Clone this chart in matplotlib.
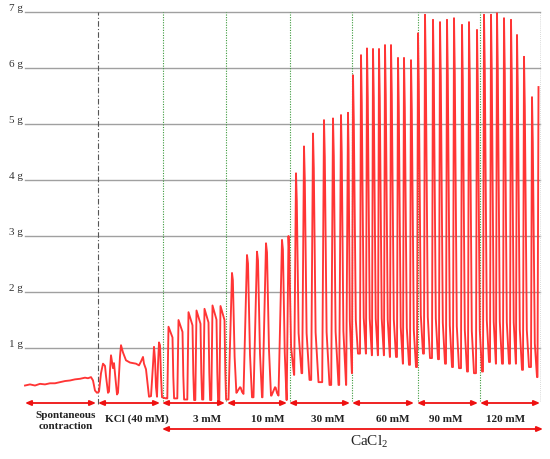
import matplotlib
matplotlib.use("Agg")
import matplotlib.pyplot as plt

# ---------------- data (time in arbitrary units, force in g) ----------------
grid_g = [1, 2, 3, 4, 5, 6, 7]
grid_labels = ["1 g", "2 g", "3 g", "4 g", "5 g", "6 g", "7 g"]

# spontaneous contraction baseline
spont_t = [25, 30, 35, 40, 45, 50, 55, 60, 65, 70, 75, 80, 85, 88, 91, 93, 95, 97]
spont_g = [0.33, 0.35, 0.33, 0.36, 0.35, 0.37, 0.37, 0.39, 0.41, 0.42, 0.44, 0.45,
           0.47, 0.46, 0.48, 0.42, 0.24, 0.20]

# KCl (40 mM) trace
kcl_t = [97, 99, 101, 103, 105, 106, 108, 109, 110, 111, 112, 113, 114, 115, 117,
         118, 120, 121, 123, 126, 130, 133, 136, 139, 141, 143, 144, 146, 148, 149,
         151, 153, 154, 155, 156, 157, 158, 159, 160, 161, 162, 166]
kcl_g = [0.20, 0.22, 0.55, 0.72, 0.68, 0.50, 0.20, 0.22, 0.60, 0.87, 0.75, 0.64,
         0.73, 0.55, 0.17, 0.20, 0.85, 1.05, 0.92, 0.78, 0.74, 0.73, 0.72, 0.69,
         0.76, 0.84, 0.72, 0.62, 0.30, 0.13, 0.14, 0.70, 1.02, 0.80, 0.30, 0.13,
         0.70, 1.10, 1.05, 0.50, 0.12, 0.10]

# CaCl2 contractions: peak times, peak forces, following trough forces
ca3_t = [168.5, 178.5, 188.5, 196.5, 204.5, 212.5, 220.5]
ca3_peak = [1.38, 1.50, 1.64, 1.67, 1.70, 1.76, 1.75]
ca3_trough = [0.10, 0.08, 0.07, 0.08, 0.07, 0.06, 0.08]

ca10_t = [232, 240, 247, 257, 266, 275, 282]
ca10_peak = [2.34, 0.30, 2.66, 2.72, 2.87, 0.30, 2.93]
ca10_trough = [0.20, 0.18, 0.12, 0.12, 0.15, 0.15, 0.07]

ca30_t = [288.5, 296, 304, 313, 324, 333, 341, 348]
ca30_peak = [3.00, 4.12, 4.60, 4.83, 5.07, 5.10, 5.16, 5.20]
ca30_trough = [0.52, 0.55, 0.43, 0.39, 0.34, 0.34, 0.34, 0.55]

ca60_t = [353, 361, 367, 373, 379, 385, 391, 398, 404, 411]
ca60_peak = [5.87, 6.23, 6.35, 6.34, 6.34, 6.41, 6.41, 6.18, 6.18, 6.14]
ca60_trough = [0.90, 0.90, 0.87, 0.87, 0.87, 0.84, 0.84, 0.72, 0.70, 0.66]

ca90_t = [418, 425, 433, 440, 447, 454, 462, 469, 477]
ca90_peak = [6.62, 6.95, 6.86, 6.82, 6.86, 6.89, 6.77, 6.82, 6.68]
ca90_trough = [0.90, 0.82, 0.80, 0.72, 0.66, 0.64, 0.58, 0.55, 0.58]

ca120_t = [484, 491, 497, 504, 511, 517, 524, 532, 538.5]
ca120_peak = [6.95, 6.95, 6.98, 6.89, 6.86, 6.59, 6.20, 5.48, 5.66]
ca120_trough = [0.75, 0.72, 0.72, 0.72, 0.72, 0.61, 0.66, 0.48, 5.66]

# segments: label, start, end
seg_labels = ["Spontaneous\ncontraction", "KCl (40 mM)", "3 mM", "10 mM", "30 mM",
              "60 mM", "90 mM", "120 mM"]
seg_start = [25, 98, 162, 227, 289, 352, 417, 480]
seg_end = [96, 160, 225, 287, 350, 414, 478, 540]
seg_label_x = [66, 137, 207, 268, 328, 393, 446, 506]
boundaries = [98, 163, 226, 290, 352, 418, 480]

# ---------------- build trace ----------------
# contraction shape per segment:
# (rise, hold, drop fraction, knee time, knee fraction, fall time)
shapes = [
    (ca3_t, ca3_peak, ca3_trough, (1.2, 4.0, 0.15, 4.8, 0.30, 5.6)),
    (ca10_t, ca10_peak, ca10_trough, (3.5, 1.0, 0.06, 3.0, 0.30, 5.0)),
    (ca30_t, ca30_peak, ca30_trough, (1.8, 0.8, 0.14, 2.6, 0.20, 5.5)),
    (ca60_t, ca60_peak, ca60_trough, (1.0, 0.8, 0.16, 2.8, 0.12, 5.0)),
    (ca90_t, ca90_peak, ca90_trough, (1.0, 0.8, 0.16, 2.8, 0.12, 5.0)),
    (ca120_t, ca120_peak, ca120_trough, (1.0, 0.8, 0.16, 2.8, 0.12, 5.0)),
]

tx = list(spont_t) + list(kcl_t[1:])
ty = list(spont_g) + list(kcl_g[1:])

peaks = []
for ts, ps, rs, shp in shapes:
    for t, p, r in zip(ts, ps, rs):
        peaks.append((t, p, r, shp))

prev_r = ty[-1]
for i, (t, p, r, (rise, hold, drop, knee_t, knee_f, fall)) in enumerate(peaks):
    tx.append(t - rise)
    ty.append(prev_r)
    tx.append(t)
    ty.append(p)
    if i == len(peaks) - 1:
        break
    nt, _, _, nshp = peaks[i + 1]
    avail = nt - t - nshp[0]
    k = min(1.0, 0.97 * avail / fall)
    amp = p - r
    tx.append(t + hold * k)
    ty.append(p - drop * amp)
    tx.append(t + knee_t * k)
    ty.append(r + knee_f * amp)
    tx.append(t + fall * k)
    ty.append(r)
    prev_r = r

# ---------------- figure ----------------
plt.rcParams["font.family"] = ["Liberation Serif", "DejaVu Serif"]
plt.rcParams["mathtext.fontset"] = "custom"
plt.rcParams["mathtext.rm"] = "Liberation Serif"

fig = plt.figure(figsize=(5.5, 4.59), dpi=100)
ax = fig.add_axes([0, 0, 1, 1])
ax.set_xlim(0, 550)
ax.set_ylim((404 - 459) / 56.0, 404 / 56.0)
ax.axis("off")

for g, lab in zip(grid_g, grid_labels):
    ax.plot([25, 540], [g, g], color="#a0a0a0", lw=1.0, zorder=1)
    ax.text(23, g + 0.06, lab, ha="right", va="center", fontsize=8, color="#333333")
ax.plot([539.5, 539.5], [0.05, 7.0], color="#cccccc", lw=0.6, ls=(0, (1, 1.5)), zorder=1)

ax.plot([boundaries[0]] * 2, [0.0, 7.0], color="#555555", lw=0.8,
        ls=(0, (5, 2, 1, 2)), zorder=2)
for b in boundaries[1:]:
    ax.plot([b, b], [0.05, 7.0], color="#3c9a3c", lw=0.8, ls=(0, (1, 1.3)), zorder=2)

ax.plot(tx, ty, color="#ff3535", lw=1.35, zorder=3, solid_joinstyle="round")

# segment arrows
y1 = (404 - 403) / 56.0
for s, e in zip(seg_start, seg_end):
    ax.annotate("", xy=(e, y1), xytext=(s, y1),
                arrowprops=dict(arrowstyle="<|-|>,head_length=0.35,head_width=0.15",
                                color="#ee1111", lw=1.3, shrinkA=0, shrinkB=0))
y2 = (404 - 429) / 56.0
ax.annotate("", xy=(543, y2), xytext=(162, y2),
            arrowprops=dict(arrowstyle="<|-|>,head_length=0.35,head_width=0.15",
                            color="#ee1111", lw=1.3, shrinkA=0, shrinkB=0))

for i, (lab, x) in enumerate(zip(seg_labels, seg_label_x)):
    yy = (404 - 421) / 56.0 if i == 0 else (404 - 419) / 56.0
    ax.text(x, yy, lab, ha="center", va="center", fontsize=8, fontweight="bold",
            color="#222222", linespacing=1.15)

ax.text(369, (404 - 442) / 56.0, r"CaCl$_{\mathregular{2}}$", ha="center", va="center",
        fontsize=11, color="#222222")

fig.savefig("out.png", dpi=100)
